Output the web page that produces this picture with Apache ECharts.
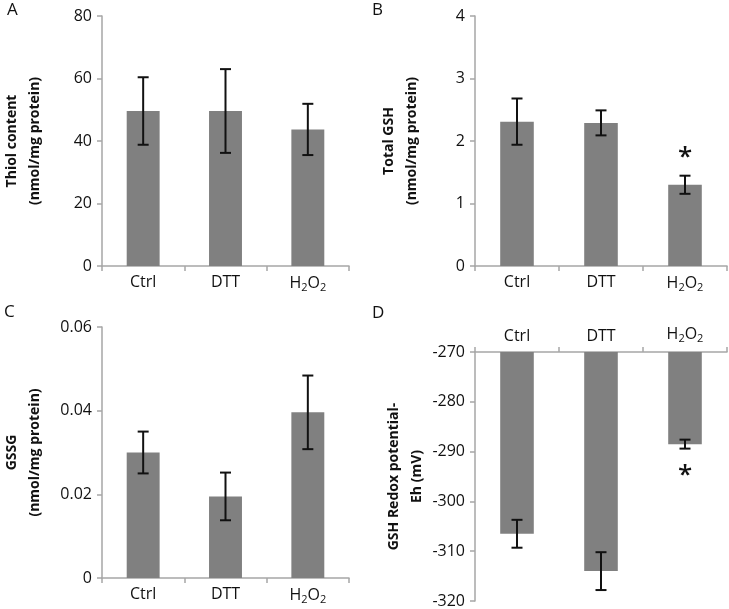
<!DOCTYPE html>
<html>
<head>
<meta charset="utf-8">
<script src="https://cdn.jsdelivr.net/npm/echarts@6/dist/echarts.min.js"></script>
<style>html,body{margin:0;padding:0;background:#fff}#c{width:729px;height:609px}</style>
</head>
<body>
<div id="c"></div>
<script>
var categories = ['Ctrl', 'DTT', 'H2O2'];

var thiolMean = [49.6, 49.6, 43.7];
var thiolErr = [10.8, 13.4, 8.2];

var gshMean = [2.31, 2.29, 1.30];
var gshErr = [0.37, 0.20, 0.145];
var gshSig = ['', '', '*'];

var gssgMean = [0.0300, 0.0195, 0.0396];
var gssgErr = [0.0050, 0.0057, 0.0088];

var ehMean = [-306.5, -314.0, -288.5];
var ehErr = [2.8, 3.8, 0.9];
var ehSig = ['', '', '*'];

var yTicksA = [0, 20, 40, 60, 80];
var yTicksB = [0, 1, 2, 3, 4];
var yTicksC = [0, 0.02, 0.04, 0.06];
var yTicksD = [-320, -310, -300, -290, -280, -270];

var FONT = 'Open Sans';
var AXIS_COLOR = '#a6a6a6';
var BAR_COLOR = '#808080';

var grids = [
  {left: 97, top: 16, width: 252, height: 250},
  {left: 475, top: 16, width: 252, height: 250},
  {left: 97, top: 327, width: 252, height: 251},
  {left: 475, top: 352, width: 252, height: 250}
];

function xAxisFor(i, pos) {
  return {
    type: 'category', gridIndex: i, data: categories, position: pos,
    axisLine: {lineStyle: {color: AXIS_COLOR, width: 1.5}},
    axisTick: {show: true, length: 5, interval: 0, lineStyle: {color: AXIS_COLOR, width: 1.5}, inside: false},
    axisLabel: {
      interval: 0, hideOverlap: false,
      margin: 8, fontFamily: FONT, fontSize: 16, color: '#111',
      formatter: function (v) { return v === 'H2O2' ? 'H{sub|2}O{sub|2}' : v; },
      rich: {sub: {fontSize: 11, fontFamily: FONT, color: '#111', verticalAlign: 'bottom', padding: [8, 0, 0, 0]}}
    }
  };
}

function yAxisFor(i, ticks, name, gap, fmt) {
  var mn = ticks[0], mx = ticks[ticks.length - 1];
  return {
    type: 'value', gridIndex: i, min: mn, max: mx, interval: ticks[1] - ticks[0],
    name: name, nameLocation: 'middle', nameGap: gap, nameRotate: 90,
    nameTextStyle: {fontFamily: FONT, fontSize: 14, fontWeight: 'bold', color: '#111', lineHeight: 23, align: 'center'},
    axisLine: {show: true, lineStyle: {color: AXIS_COLOR, width: 1.5}},
    axisTick: {show: true, length: 5, lineStyle: {color: AXIS_COLOR, width: 1.5}},
    splitLine: {show: false},
    axisLabel: {margin: 10, fontFamily: FONT, fontSize: 16, color: '#111', formatter: fmt}
  };
}

function barSeries(i, data) {
  return {
    type: 'bar', xAxisIndex: i, yAxisIndex: i, data: data, barWidth: '40%',
    itemStyle: {color: BAR_COLOR}, clip: true, silent: true
  };
}

function errSeries(i, mean, err, sig, sigDir) {
  var d = mean.map(function (m, k) { return [k, m, err[k], sig ? sig[k] : '']; });
  return {
    type: 'custom', xAxisIndex: i, yAxisIndex: i, data: d, silent: true, clip: false, z: 10,
    renderItem: function (params, api) {
      var x = api.value(0), m = api.value(1), e = api.value(2);
      var s = d[params.dataIndex][3];
      var top = api.coord([x, m + e]);
      var bot = api.coord([x, m - e]);
      var hw = 5.5;
      var style = {stroke: '#111', lineWidth: 2};
      var children = [
        {type: 'line', shape: {x1: top[0], y1: top[1], x2: bot[0], y2: bot[1]}, style: style},
        {type: 'line', shape: {x1: top[0] - hw, y1: top[1], x2: top[0] + hw, y2: top[1]}, style: style},
        {type: 'line', shape: {x1: bot[0] - hw, y1: bot[1], x2: bot[0] + hw, y2: bot[1]}, style: style}
      ];
      if (s) {
        var yy = sigDir > 0 ? top[1] - 18 : bot[1] + 27;
        children.push({type: 'text', style: {text: s, x: top[0], y: yy, align: 'center', verticalAlign: 'middle',
          font: '600 26px ' + FONT, fill: '#111'}});
      }
      return {type: 'group', children: children};
    }
  };
}

var chart = echarts.init(document.getElementById('c'), null, {renderer: 'canvas'});
chart.setOption({
  backgroundColor: '#fff',
  animation: false,
  grid: grids,
  xAxis: [xAxisFor(0, 'bottom'), xAxisFor(1, 'bottom'), xAxisFor(2, 'bottom'), xAxisFor(3, 'top')],
  yAxis: [
    yAxisFor(0, yTicksA, 'Thiol content\n(nmol/mg protein)', 55),
    yAxisFor(1, yTicksB, 'Total GSH\n(nmol/mg protein)', 51),
    yAxisFor(2, yTicksC, 'GSSG\n(nmol/mg protein)', 55, function (v) { return v === 0 ? '0' : v.toFixed(2); }),
    yAxisFor(3, yTicksD, 'GSH Redox potential-\nEh (mV)', 46)
  ],
  graphic: [
    {type: 'text', left: 7, top: 2, style: {text: 'A', font: '17px ' + FONT, fill: '#111'}},
    {type: 'text', left: 372, top: 2, style: {text: 'B', font: '17px ' + FONT, fill: '#111'}},
    {type: 'text', left: 4, top: 304, style: {text: 'C', font: '17px ' + FONT, fill: '#111'}},
    {type: 'text', left: 372, top: 305, style: {text: 'D', font: '17px ' + FONT, fill: '#111'}}
  ],
  series: [
    barSeries(0, thiolMean), errSeries(0, thiolMean, thiolErr),
    barSeries(1, gshMean), errSeries(1, gshMean, gshErr, gshSig, 1),
    barSeries(2, gssgMean), errSeries(2, gssgMean, gssgErr),
    barSeries(3, ehMean), errSeries(3, ehMean, ehErr, ehSig, -1)
  ]
});
</script>
</body>
</html>
